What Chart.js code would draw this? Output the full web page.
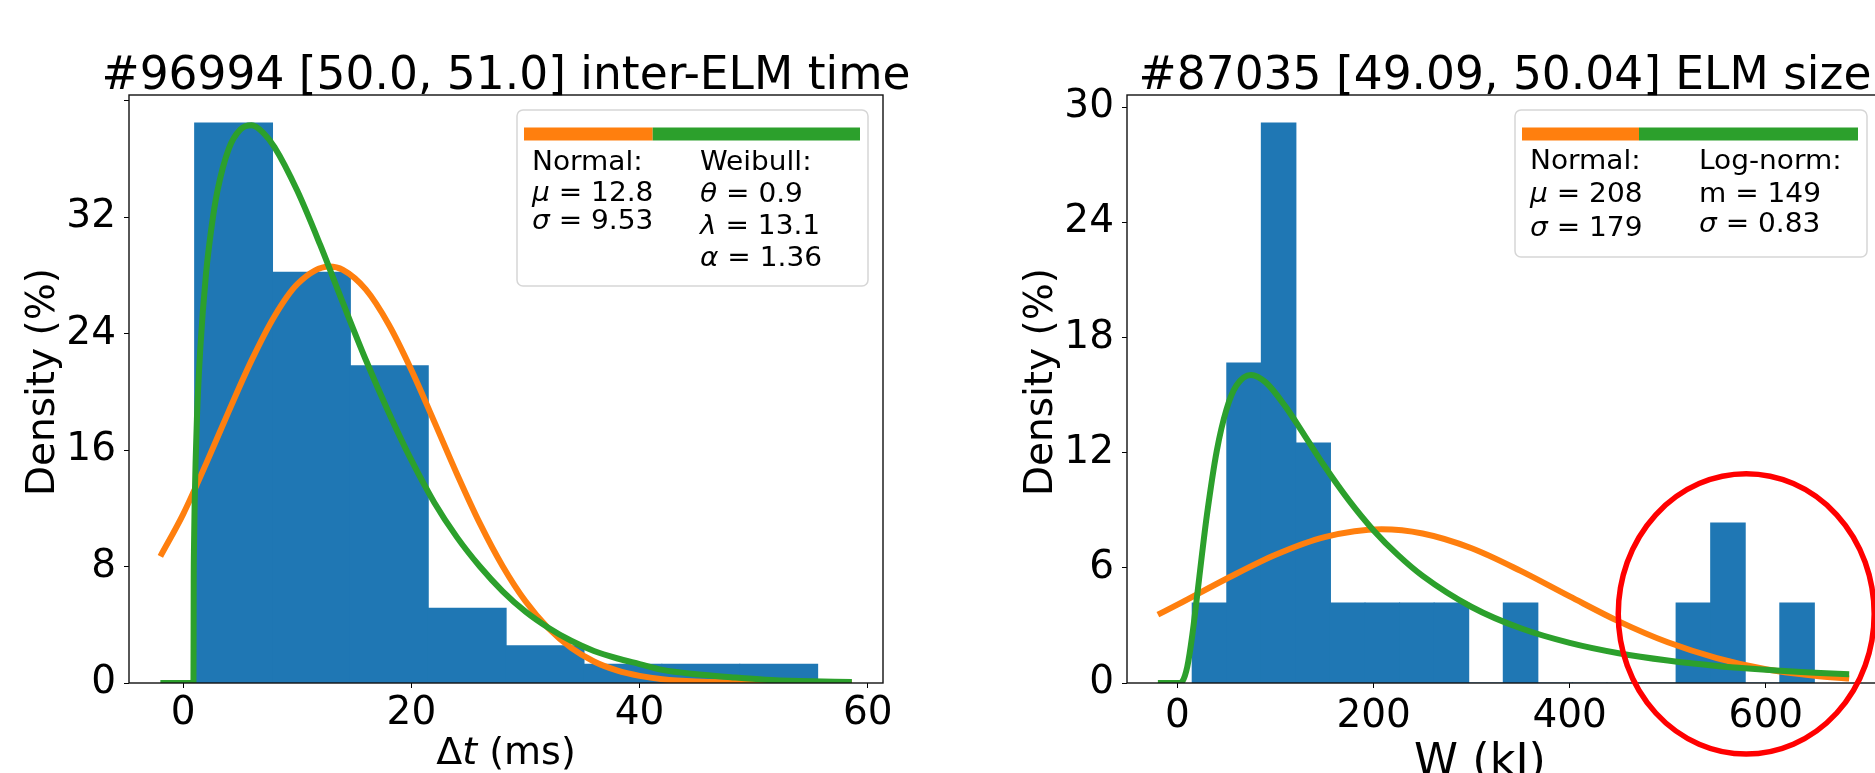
<!DOCTYPE html>
<html>
<head>
<meta charset="utf-8">
<script src="https://cdn.jsdelivr.net/npm/chart.js@4.4.0/dist/chart.umd.min.js"></script>
<style>
  html, body { margin: 0; padding: 0; background: #fff; overflow: hidden; width: 1875px; height: 773px; }
  canvas { position: absolute; top: 0; }
  #left { left: 0; }
  #right { left: 999px; }
</style>
</head>
<body>
<canvas id="left" width="940" height="790"></canvas>
<canvas id="right" width="941" height="790"></canvas>
<script>
// ---- left panel: inter-ELM time ----
const dtEdges = [1.0, 7.83, 14.65, 21.48, 28.3, 35.13, 41.95, 48.78, 55.6];
const dtDensity = [38.46, 28.21, 21.79, 5.13, 2.56, 1.28, 1.28, 1.28];
const dtNormalX = [-2, 0, 2, 4, 6, 8, 10, 12.8, 14, 16, 18, 20, 22, 24, 26, 28, 30, 32, 34, 36, 38, 40, 42, 45, 50, 55, 58.6];
const dtNormalY = [8.7, 11.6, 15.05, 18.67, 22.17, 25.19, 27.39, 28.6, 28.37, 27.03, 24.64, 21.5, 17.95, 14.34, 10.96, 8.02, 5.61, 3.76, 2.41, 1.48, 0.87, 0.49, 0.26, 0.1, 0.01, 0, 0];
const dtWeibullX = [-2, 0.9, 0.92, 0.95, 1.0, 1.2, 1.5, 2, 2.5, 3, 4, 5, 6, 7, 8, 10, 12, 14, 16, 18, 20, 22, 24, 26, 28, 30, 32, 34, 36, 38, 40, 42, 45, 48, 51, 54, 58.6];
const dtWeibullY = [0, 0, 6.9, 9.5, 12.2, 18.1, 23.0, 28.1, 31.4, 33.8, 36.7, 38.0, 38.3, 37.8, 36.8, 33.8, 30.1, 26.1, 22.2, 18.6, 15.3, 12.4, 10.0, 8.0, 6.3, 4.9, 3.8, 2.9, 2.2, 1.7, 1.3, 0.9, 0.6, 0.4, 0.23, 0.14, 0.07];
const dtXTicks = [0, 20, 40, 60];
const dtYTicks = [0, 8, 16, 24, 32, 40];
const dtYTickLabels = ['0', '8', '16', '24', '32', ''];

// ---- right panel: ELM size ----
const wEdges = [15, 50.25, 85.5, 120.75, 156, 191.25, 226.5, 261.75, 297, 332.25, 367.5, 402.75, 438, 473.25, 508.5, 543.75, 579, 614.25, 649.5];
const wDensity = [4.17, 16.67, 29.17, 12.5, 4.17, 4.17, 4.17, 4.17, 0, 4.17, 0, 0, 0, 0, 4.17, 8.33, 0, 4.17];
const wNormalX = [-20, 0, 50, 100, 150, 208, 250, 300, 350, 400, 450, 500, 550, 600, 650, 685];
const wNormalY = [3.56, 4.08, 5.43, 6.68, 7.6, 8.01, 7.79, 7.02, 5.84, 4.51, 3.21, 2.12, 1.3, 0.72, 0.38, 0.23];
const wLognormX = [-20, 0, 2, 5, 10, 15, 20, 25, 30, 40, 50, 60, 75, 90, 110, 130, 150, 175, 200, 225, 250, 300, 350, 400, 450, 500, 550, 600, 650, 685];
const wLognormY = [0, 0, 0, 0.08, 0.85, 2.46, 4.54, 6.71, 8.75, 12.08, 14.26, 15.49, 16.05, 15.66, 14.41, 12.86, 11.29, 9.5, 7.95, 6.66, 5.58, 3.96, 2.85, 2.09, 1.55, 1.17, 0.89, 0.69, 0.54, 0.46];
const wXTicks = [0, 200, 400, 600];
const wYTicks = [0, 6, 12, 18, 24, 30];
const wYTickLabels = ['0', '6', '12', '18', '24', '30'];

const FONT = "'DejaVu Sans', sans-serif";
const BLUE = '#1f77b4', ORANGE = '#ff7f0e', GREEN = '#2ca02c';

function toPoints(xs, ys) {
  return xs.map((x, i) => ({ x: x, y: ys[i] }));
}
function binPoints(edges, heights) {
  return heights.map((h, i) => ({ x: (edges[i] + edges[i + 1]) / 2, y: h }));
}

// draw a run of text pieces, some italic, starting at x on baseline y
function drawParts(ctx, parts, x, y, size, align) {
  ctx.textBaseline = 'alphabetic';
  ctx.textAlign = 'left';
  let total = 0;
  parts.forEach(p => {
    ctx.font = (p[1] ? 'italic ' : '') + size + 'px ' + FONT;
    total += ctx.measureText(p[0]).width;
  });
  let cx = align === 'center' ? x - total / 2 : x;
  parts.forEach(p => {
    ctx.font = (p[1] ? 'italic ' : '') + size + 'px ' + FONT;
    ctx.fillText(p[0], cx, y);
    cx += ctx.measureText(p[0]).width;
  });
}

const decor = {
  id: 'decor',
  afterDatasetsDraw(chart, args, o) {
    const ctx = chart.ctx, a = chart.chartArea;
    ctx.save();
    ctx.fillStyle = '#000';

    // frame
    ctx.strokeStyle = '#111';
    ctx.lineWidth = 1.4;
    ctx.strokeRect(a.left, a.top, a.right - a.left, a.bottom - a.top);

    // title
    drawParts(ctx, [[o.title, false]], (a.left + a.right) / 2, 89, 45.5, 'center');

    // axis titles
    drawParts(ctx, o.xLabel, (a.left + a.right) / 2 + o.xLabelShift, o.xLabelBase, o.xLabelSize, 'center');
    ctx.save();
    ctx.translate(a.left - 85, (a.top + a.bottom) / 2 - 7);
    ctx.rotate(-Math.PI / 2);
    ctx.textBaseline = 'middle';
    ctx.textAlign = 'center';
    ctx.font = '39px ' + FONT;
    ctx.fillText('Density (%)', 0, 0);
    ctx.restore();

    // legend box
    const lg = o.legend;
    const bx = a.right - lg.right - lg.width, by = a.top + 15;
    ctx.beginPath();
    ctx.roundRect(bx, by, lg.width, lg.height, 6);
    ctx.fillStyle = 'rgba(255,255,255,0.85)';
    ctx.fill();
    ctx.strokeStyle = '#d6d6d6';
    ctx.lineWidth = 1.5;
    ctx.stroke();
    ctx.fillStyle = ORANGE;
    ctx.fillRect(bx + 7, by + 17.5, lg.split, 13);
    ctx.fillStyle = GREEN;
    ctx.fillRect(bx + 7 + lg.split, by + 17.5, lg.bar - lg.split, 13);
    ctx.fillStyle = '#000';
    lg.columns.forEach(col => {
      col.rows.forEach((row, i) => {
        ctx.save();
        ctx.translate(bx + col.dx, by + col.base[i]);
        ctx.scale(1.12, 1.06);
        drawParts(ctx, row, 0, 0, 25, 'left');
        ctx.restore();
      });
    });

    // highlight ellipse, placed in data units
    if (o.ellipse) {
      const e = o.ellipse, xs = chart.scales.x, ys = chart.scales.y;
      const cx = xs.getPixelForValue(e.x), cy = ys.getPixelForValue(e.y);
      const rx = xs.getPixelForValue(e.x + e.rx) - cx;
      const ry = ys.getPixelForValue(0) - ys.getPixelForValue(e.ry);
      ctx.beginPath();
      ctx.ellipse(cx, cy, rx, ry, 0, 0, Math.PI * 2);
      ctx.strokeStyle = '#ff0000';
      ctx.lineWidth = 5.5;
      ctx.stroke();
    }
    ctx.restore();
  }
};

function row(sym, italic, value) {
  return [[sym, italic], [' = ' + value, false]];
}

function makeChart(id, p) {
  const tickFont = { family: FONT, size: 39 };
  return new Chart(document.getElementById(id), {
    type: 'bar',
    data: {
      datasets: [
        { type: 'line', data: toPoints(p.gx, p.gy), borderColor: GREEN, borderWidth: 6,
          pointRadius: 0, cubicInterpolationMode: 'monotone', fill: false, order: 0 },
        { type: 'line', data: toPoints(p.ox, p.oy), borderColor: ORANGE, borderWidth: 6,
          pointRadius: 0, cubicInterpolationMode: 'monotone', fill: false, order: 1 },
        { type: 'bar', data: binPoints(p.edges, p.heights), backgroundColor: BLUE, borderWidth: 0,
          barPercentage: 1, categoryPercentage: 1, inflateAmount: 0.5, order: 2 }
      ]
    },
    options: {
      responsive: false,
      animation: false,
      devicePixelRatio: 1,
      layout: { padding: { left: 0, top: 95, right: 57, bottom: 0 } },
      plugins: {
        legend: { display: false },
        tooltip: { enabled: false },
        decor: p.decor
      },
      scales: {
        x: {
          type: 'linear', min: p.xMin, max: p.xMax, offset: false,
          afterBuildTicks: s => { s.ticks = p.xTicks.map(v => ({ value: v })); },
          afterFit: s => { s.height = 107; },
          ticks: { font: tickFont, color: '#000', padding: p.xTickPad, maxRotation: 0,
                   callback: v => String(v) },
          grid: { offset: false, drawOnChartArea: false, drawTicks: true, tickLength: 5, color: '#000' },
          border: { display: false }
        },
        y: {
          type: 'linear', min: 0, max: p.yMax,
          afterBuildTicks: s => { s.ticks = p.yTicks.map(v => ({ value: v })); },
          afterFit: s => { s.width = p.yWidth; },
          ticks: { font: tickFont, color: '#000', padding: 8,
                   callback: (v, i) => p.yLabels[i] },
          grid: { drawOnChartArea: false, drawTicks: true, tickLength: 5, color: '#000' },
          border: { display: false }
        }
      }
    },
    plugins: [decor]
  });
}

makeChart('left', {
  edges: dtEdges, heights: dtDensity,
  ox: dtNormalX, oy: dtNormalY, gx: dtWeibullX, gy: dtWeibullY,
  xMin: -4.75, xMax: 61.33, yMax: 40.38, xTickPad: 2,
  xTicks: dtXTicks, yTicks: dtYTicks, yLabels: dtYTickLabels, yWidth: 129,
  decor: {
    title: '#96994 [50.0, 51.0] inter-ELM time',
    xLabel: [['\u0394', false], ['t', true], [' (ms)', false]],
    xLabelShift: 0, xLabelBase: 764, xLabelSize: 38,
    legend: {
      width: 351, height: 176, right: 15, split: 128.7, bar: 336,
      columns: [
        { dx: 15, base: [59.7, 90.7, 119],
          rows: [[['Normal:', false]], row('\u03bc', true, '12.8'), row('\u03c3', true, '9.53')] },
        { dx: 183, base: [59.7, 92.4, 124, 156.4],
          rows: [[['Weibull:', false]], row('\u03b8', true, '0.9'), row('\u03bb', true, '13.1'), row('\u03b1', true, '1.36')] }
      ]
    }
  }
});

makeChart('right', {
  edges: wEdges, heights: wDensity,
  ox: wNormalX, oy: wNormalY, gx: wLognormX, gy: wLognormY,
  xMin: -51.5, xMax: 719.5, yMax: 30.63, xTickPad: 5,
  xTicks: wXTicks, yTicks: wYTicks, yLabels: wYTickLabels, yWidth: 128,
  decor: {
    title: '#87035 [49.09, 50.04] ELM size',
    xLabel: [['W (kJ)', false]],
    xLabelShift: -25, xLabelBase: 775, xLabelSize: 44.5,
    legend: {
      width: 352, height: 147, right: 16, split: 117, bar: 336,
      columns: [
        { dx: 15, base: [59, 91.7, 125.7],
          rows: [[['Normal:', false]], row('\u03bc', true, '208'), row('\u03c3', true, '179')] },
        { dx: 184, base: [59, 91.7, 121.7],
          rows: [[['Log-norm:', false]], row('m', false, '149'), row('\u03c3', true, '0.83')] }
      ]
    },
    ellipse: { x: 580, y: 3.6, rx: 130.5, ry: 7.3 }
  }
});
</script>
</body>
</html>
